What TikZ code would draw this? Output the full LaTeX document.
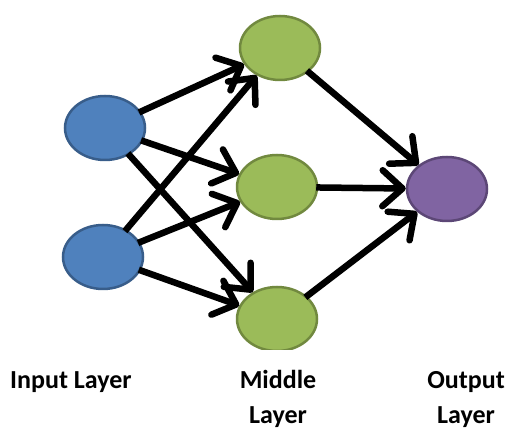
\documentclass[tikz,border=0pt]{standalone}
\usepackage{fontspec}
\setmainfont{Carlito}
\usetikzlibrary{arrows.meta,shapes.geometric}
\definecolor{inblue}{HTML}{4F81BD}
\definecolor{inblueb}{HTML}{385D8A}
\definecolor{midgreen}{HTML}{9BBB59}
\definecolor{midgreenb}{HTML}{71893F}
\definecolor{outpurple}{HTML}{8064A2}
\definecolor{outpurpleb}{HTML}{5C4776}
\tikzset{
  neuron/.style={ellipse, minimum width=80pt, minimum height=64pt, inner sep=0pt, line width=2.5pt},
  inneuron/.style={neuron, fill=inblue, draw=inblueb},
  midneuron/.style={neuron, fill=midgreen, draw=midgreenb},
  outneuron/.style={neuron, fill=outpurple, draw=outpurpleb},
  conn/.style={line width=6.5pt, -{Straight Barb[length=20pt, width=36pt, line width=6.5pt, round]}, shorten <=-2pt},
  lbl/.style={font=\bfseries\fontsize{26}{37}\selectfont, anchor=base, inner sep=0pt}
}
\begin{document}
\begin{tikzpicture}[x=1pt,y=1pt]
\useasboundingbox (0,0) rectangle (530,430);
\node[inneuron] (i1) at (105,302) {};
\node[inneuron] (i2) at (103,173) {};
\node[midneuron] (m1) at (280,382) {};
\node[midneuron] (m2) at (277,243) {};
\begin{scope}
\clip (0,80) rectangle (530,430);
\node[midneuron] (m3) at (277,111) {};
\end{scope}
\node[outneuron] (o) at (447,241) {};
\draw[conn] (i1) -- (m1);
\draw[conn] (i1) -- (m2);
\draw[conn] (i1) -- (m3);
\draw[conn] (i2) -- (m1);
\draw[conn] (i2) -- (m2);
\draw[conn] (i2) -- (m3);
\draw[conn] (m1) -- (o);
\draw[conn] (m2) -- (o);
\draw[conn] (m3) -- (o);
\node[lbl, anchor=base west] (t1) at (10,41) {Input Layer};
\node[lbl] (t2) at (278,41) {Middle};
\node[lbl] (t3) at (278,6) {Layer};
\node[lbl] (t4) at (466,41) {Output};
\node[lbl] (t5) at (466,6) {Layer};
\end{tikzpicture}
\end{document}
